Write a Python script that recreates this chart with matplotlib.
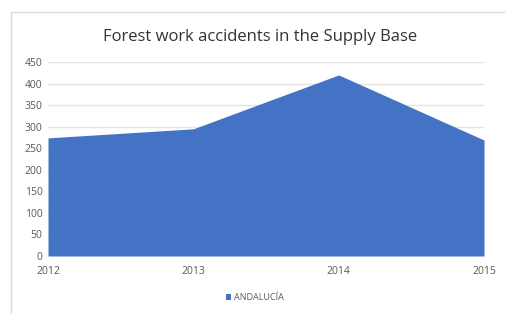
import matplotlib.pyplot as plt
from matplotlib.lines import Line2D

years = [2012, 2013, 2014, 2015]
accidents = [274, 295, 420, 269]
series_name = "ANDALUCÍA"

plt.rcParams['font.family'] = ['Open Sans', 'DejaVu Sans']

fig = plt.figure(figsize=(5.05, 3.14), dpi=100)
# chart area border (left and top edges only visible in the crop)
bx, by = 10.5/505, 1 - 11.5/314
fig.lines.append(Line2D([bx, bx, 1.0], [0, by, by], transform=fig.transFigure,
                        color='#d9d9d9', linewidth=1))
ax = fig.add_axes([48/505, 1 - 256/314, (484 - 48)/505, (256 - 62)/314])

ax.fill_between(years, accidents, 0, color='#4472c4', linewidth=0, label=series_name, zorder=2)
ax.set_xlim(years[0], years[-1])
ax.set_ylim(0, 450)
ax.set_yticks(range(0, 451, 50))
ax.set_xticks(years)
ax.grid(axis='y', color='#e4e4e4', linewidth=1, zorder=0)
for s in ax.spines.values():
    s.set_visible(False)
ax.tick_params(length=0, labelsize=7.5, colors='#595959', pad=4)
ax.tick_params(axis='x', pad=7)

fig.text(260/505, 1 - 37/314, "Forest work accidents in the Supply Base", ha='center', va='center',
         fontsize=12, color='#333333')
fig.legend(loc='center', bbox_to_anchor=(255/505, 1 - 298/314), frameon=False, fontsize=6.5,
           handlelength=0.6, handleheight=0.6, handletextpad=0.3, labelcolor='#595959')

fig.savefig('out.png', dpi=100)
